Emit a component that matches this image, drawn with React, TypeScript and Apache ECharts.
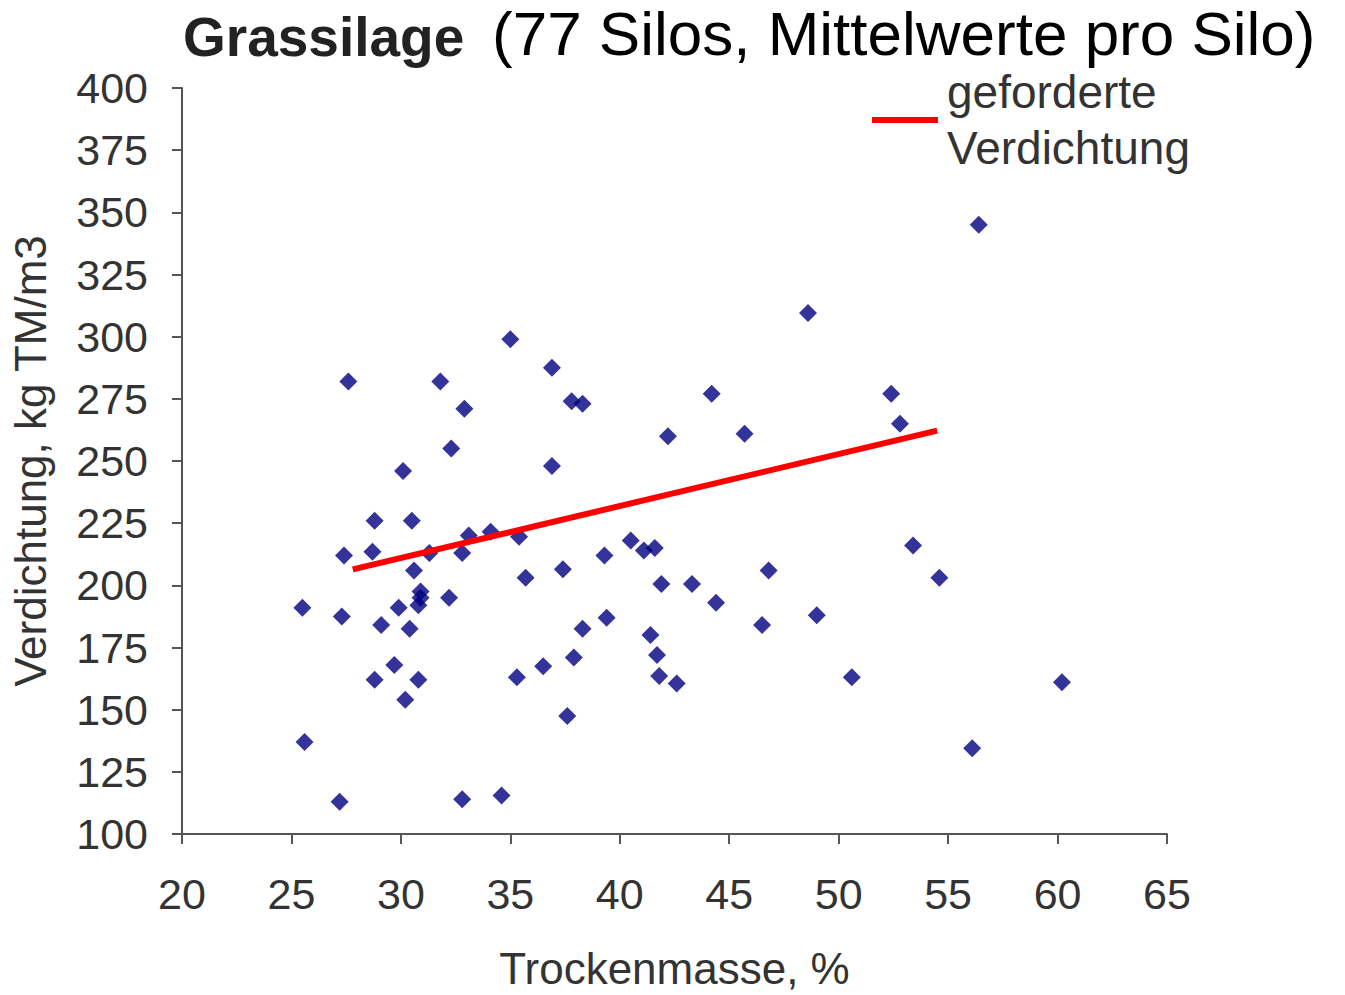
import React, { useEffect, useRef } from "react";
import * as echarts from "echarts";

const xTicks = { min: 20, max: 65, interval: 5 };
const yTicks = { min: 100, max: 400, interval: 25 };

const trockenmasse: number[] = [
  56.4, 48.6, 27.6, 31.8, 35.0, 36.9, 32.9, 37.8, 38.3, 44.2, 52.4, 52.8, 45.7, 42.2,
  32.3, 36.9, 30.1, 28.8, 30.5, 27.4, 28.7, 31.3, 32.8, 33.1, 34.1, 35.4, 30.6, 30.9,
  30.9, 30.8, 32.2, 25.5, 27.3, 29.9, 29.1, 30.4, 29.7, 28.8, 30.8, 30.2, 25.6, 27.2,
  32.8, 34.6, 39.3, 40.5, 35.7, 37.4, 39.4, 38.3, 37.9, 36.5, 35.3, 37.6, 41.1, 41.6,
  41.9, 43.3, 44.4, 46.8, 46.5, 49.0, 53.4, 54.6, 41.4, 41.7, 41.8, 42.6, 50.6, 60.2,
  56.1,
];
const verdichtung: number[] = [
  345, 309.5, 282, 282, 299, 287.5, 271, 274, 273, 277, 277, 265, 261, 260,
  255, 248, 246, 226, 226, 212, 213.5, 213, 213, 220, 221.5, 219.5, 206, 197.5,
  195, 192, 195, 191, 187.5, 191, 184, 182.5, 168, 162, 162, 154, 137, 113,
  114, 115.5, 212, 218, 203, 206.5, 187, 182.5, 171, 167.5, 163, 147.5, 214, 215,
  200.5, 200.5, 193, 206, 184, 188, 216, 203, 180, 172, 163.5, 160.5, 163, 161,
  134.5,
];
const gefordertX: number[] = [27.8, 54.5];
const gefordertY: number[] = [206.4, 262.2];

const legendName = "geforderte\nVerdichtung";

export default function App() {
  const ref = useRef<HTMLDivElement>(null);
  useEffect(() => {
    if (!ref.current) return;
    const chart = echarts.init(ref.current, undefined, { renderer: "svg" });
    const font = "Liberation Sans, Arial, sans-serif";
    chart.setOption({
      animation: false,
      backgroundColor: "#ffffff",
      textStyle: { fontFamily: font },
      graphic: [
        {
          type: "text",
          left: 183,
          top: 9,
          style: {
            text: "Grassilage",
            fontFamily: font,
            fontWeight: "bold",
            fontSize: 55,
            fill: "#222",
          },
        },
        {
          type: "text",
          left: 492,
          top: 2,
          style: {
            text: "(77 Silos, Mittelwerte pro Silo)",
            fontFamily: font,
            fontSize: 62,
            fill: "#000",
          },
        },
      ],
      legend: {
        data: [{ name: legendName, icon: "rect" }],
        left: 872,
        top: 64,
        padding: 0,
        itemWidth: 66,
        itemHeight: 6,
        textStyle: {
          fontFamily: font,
          fontSize: 46,
          lineHeight: 56,
          color: "#333",
          padding: [0, 0, 0, 4],
        },
      },
      grid: { left: 182, right: 178, top: 88, bottom: 159, containLabel: false },
      xAxis: {
        type: "value",
        min: xTicks.min,
        max: xTicks.max,
        interval: xTicks.interval,
        name: "Trockenmasse, %",
        nameLocation: "middle",
        nameGap: 112,
        nameTextStyle: { fontSize: 44, color: "#333", fontFamily: font },
        splitLine: { show: false },
        axisLine: { show: true, lineStyle: { color: "#555", width: 2 } },
        axisTick: { show: true, length: 10, lineStyle: { color: "#555", width: 2 } },
        axisLabel: { fontSize: 43, color: "#333", margin: 38, fontFamily: font },
      },
      yAxis: {
        type: "value",
        min: yTicks.min,
        max: yTicks.max,
        interval: yTicks.interval,
        name: "Verdichtung, kg TM/m3",
        nameLocation: "middle",
        nameGap: 130,
        nameRotate: 90,
        nameTextStyle: { fontSize: 44, color: "#333", fontFamily: font },
        splitLine: { show: false },
        axisLine: { show: true, lineStyle: { color: "#555", width: 2 } },
        axisTick: { show: true, length: 10, lineStyle: { color: "#555", width: 2 } },
        axisLabel: { fontSize: 43, color: "#333", margin: 34, fontFamily: font },
      },
      series: [
        {
          type: "scatter",
          name: "Silos",
          symbol: "diamond",
          symbolSize: 18,
          itemStyle: { color: "#000080" },
          data: trockenmasse.map((x, i) => [x, verdichtung[i]]),
          z: 3,
        },
        {
          type: "line",
          name: legendName,
          symbol: "none",
          lineStyle: { color: "#ff0000", width: 6 },
          itemStyle: { color: "#ff0000" },
          data: gefordertX.map((x, i) => [x, gefordertY[i]]),
          z: 4,
        },
      ],
    });
    return () => chart.dispose();
  }, []);
  return (
    <div
      ref={ref}
      style={{ position: "absolute", left: 0, top: 0, width: 1345, height: 995 }}
    />
  );
}
